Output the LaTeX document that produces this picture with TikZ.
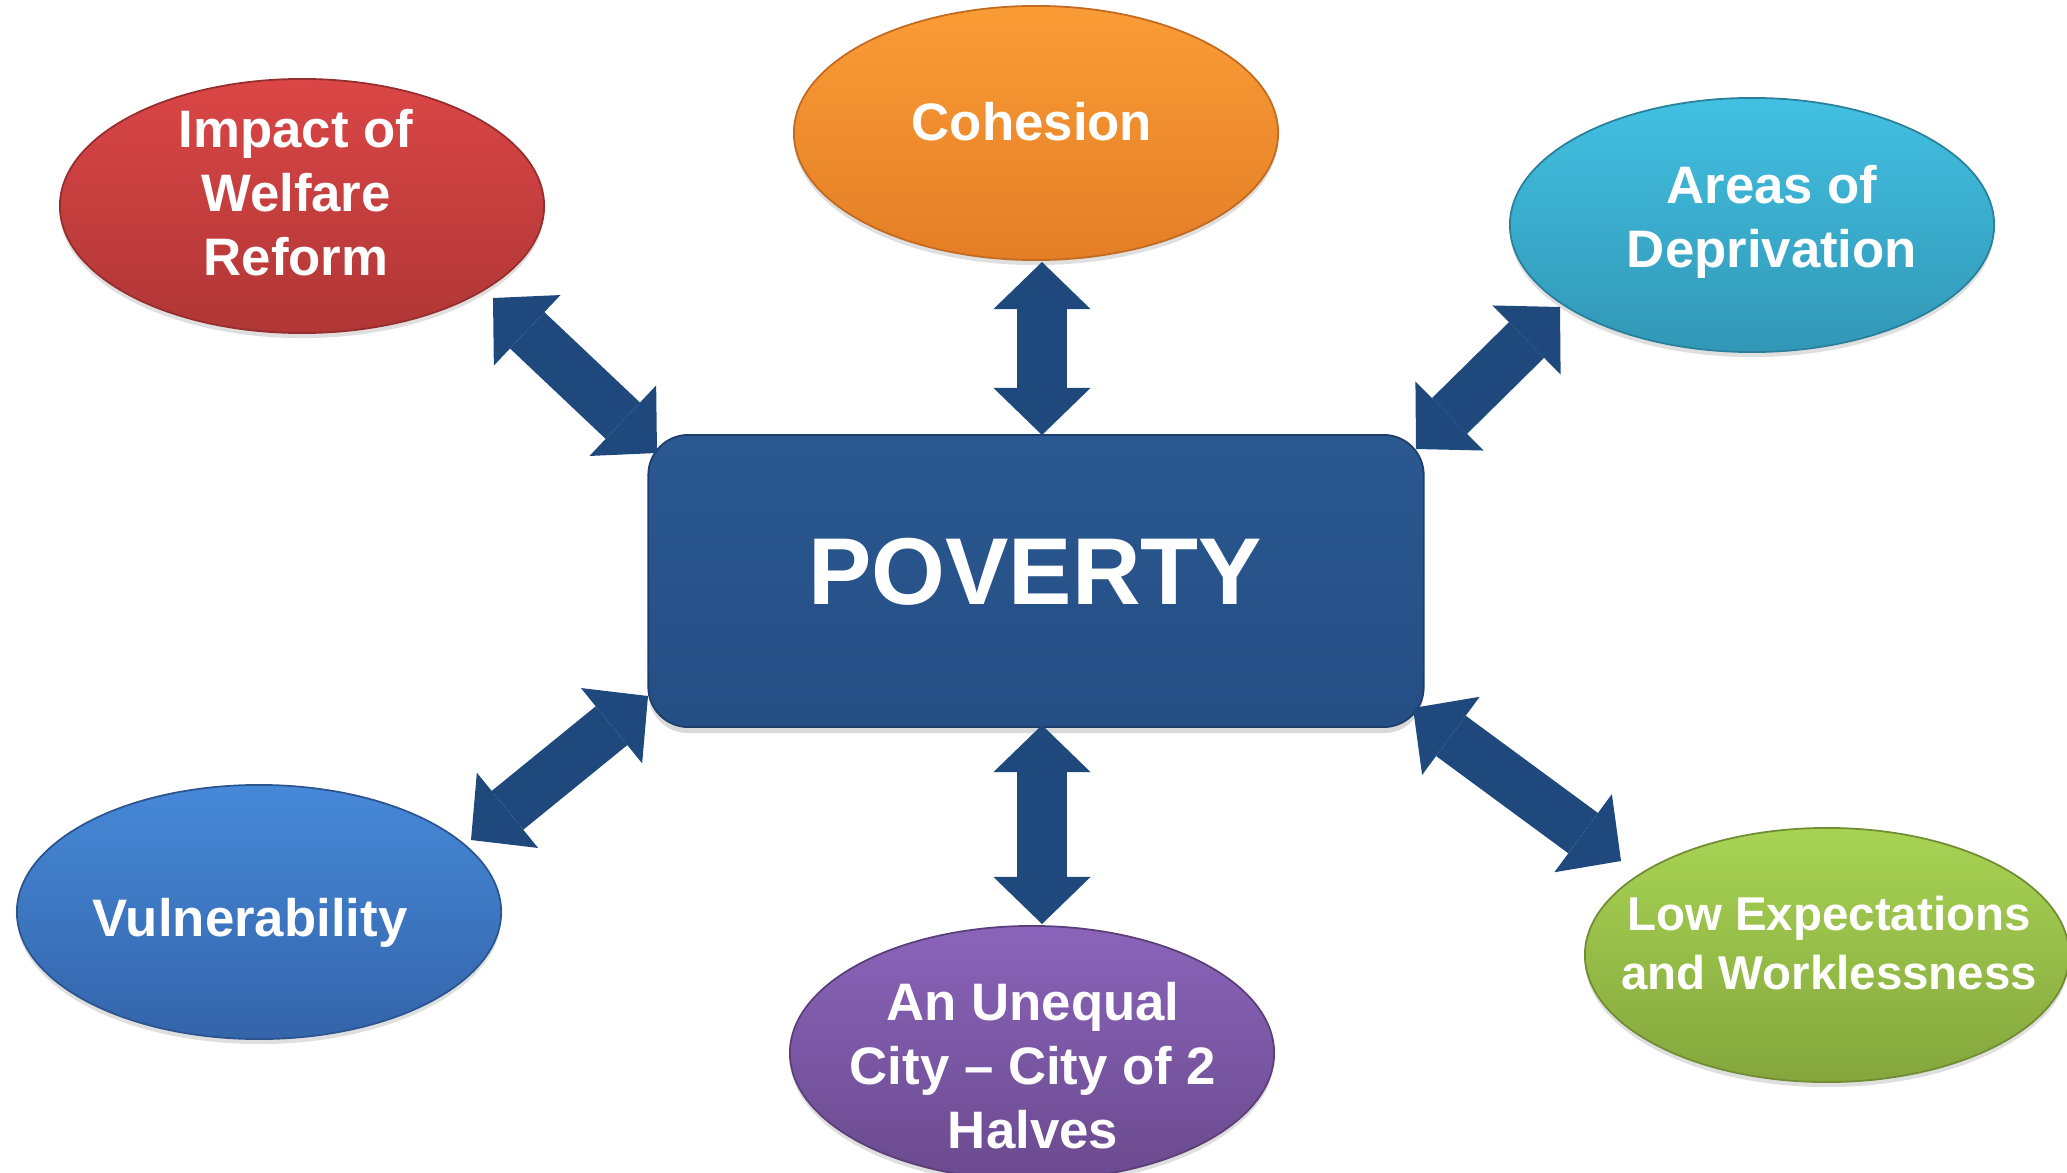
\documentclass[tikz,border=0pt]{standalone}
\usepackage{fontspec}
\setmainfont{Liberation Sans}
\usetikzlibrary{shapes.geometric,arrows.meta,shadows}

\definecolor{redT}{HTML}{DB4646}
\definecolor{redB}{HTML}{B03636}
\definecolor{oraT}{HTML}{FA9C36}
\definecolor{oraB}{HTML}{E47E26}
\definecolor{tealT}{HTML}{42C0E2}
\definecolor{tealB}{HTML}{3297B6}
\definecolor{bluT}{HTML}{4689D8}
\definecolor{bluB}{HTML}{3464AA}
\definecolor{purT}{HTML}{8A64BA}
\definecolor{purB}{HTML}{6B4A8E}
\definecolor{grnT}{HTML}{A8D354}
\definecolor{grnB}{HTML}{84A63C}
\definecolor{boxT}{HTML}{2B5891}
\definecolor{boxB}{HTML}{244E84}
\definecolor{arrowblue}{HTML}{1F497D}

\tikzset{
  bubble/.style n args={2}{ellipse, minimum width=4.84cm, minimum height=2.54cm, inner sep=0pt,
    top color=#1, bottom color=#2, draw=#2!85!black, line width=0.5pt,
    drop shadow={shadow xshift=0pt, shadow yshift=-0.05cm, opacity=0.25}},
  lbl/.style={text=white, font=\fontsize{15}{18.2}\selectfont\bfseries, align=center, inner sep=0pt},
  link/.style={arrowblue, line width=5mm,
    {Triangle[length=4.7mm, width=9.7mm, line width=0pt]}-{Triangle[length=4.7mm, width=9.7mm, line width=0pt]}}
}

\begin{document}
\begin{tikzpicture}[x=0.01cm, y=-0.01cm]
            \useasboundingbox (0,0) rectangle (2067,1173);
            % centre box
            \node[rectangle, rounded corners=0.4cm, minimum width=7.75cm, minimum height=2.92cm, inner sep=0pt,
                  top color=boxT, bottom color=boxB, draw=boxB!80!black, line width=0.5pt,
                  drop shadow={shadow xshift=0pt, shadow yshift=-0.06cm, opacity=0.3}] (P) at (1036,581) {};
            \node[text=white, font=\fontsize{27}{32}\selectfont\bfseries, inner sep=0pt] (PT) at (1035,572) {POVERTY};
            % bubbles
            \node[bubble={redT}{redB}] (W) at (302,206) {};
            \node[bubble={oraT}{oraB}] (C) at (1036,133) {};
            \node[bubble={tealT}{tealB}] (D) at (1752,225) {};
            \node[bubble={bluT}{bluB}] (V) at (259,912) {};
            \node[bubble={purT}{purB}] (U) at (1032,1053) {};
            \node[bubble={grnT}{grnB}] (L) at (1827,955) {};
            \node[lbl] (WT) at (296,193) {Impact of\\Welfare\\Reform};
            \node[lbl] (CT) at (1032,122) {Cohesion};
            \node[lbl] (DT) at (1772,222) {Areas of\\Deprivation};
            \node[lbl] (VT) at (250,923) {Vulnerability};
            \node[lbl] (UT) at (1033,1066) {An Unequal\\City -- City of 2\\Halves};
            \node[lbl, font=\fontsize{13.5}{16.6}\selectfont\bfseries] (LT) at (1829,943) {Low Expectations\\and Worklessness};
            % arrow tips
            \coordinate (W1) at (493,298);
            \coordinate (W2) at (657,453);
            \coordinate (C1) at (1042,262);
            \coordinate (C2) at (1042,435);
            \coordinate (D1) at (1560,307);
            \coordinate (D2) at (1416,449);
            \coordinate (V1) at (471,840);
            \coordinate (V2) at (648,696);
            \coordinate (U1) at (1042,924);
            \coordinate (U2) at (1042,725);
            \coordinate (L1) at (1621,861);
            \coordinate (L2) at (1413,708);
            \draw[link] (W1)--(W2);
            \draw[link] (C1)--(C2);
            \draw[link] (D1)--(D2);
            \draw[link] (V1)--(V2);
            \draw[link] (U1)--(U2);
            \draw[link] (L1)--(L2);
        \end{tikzpicture}
\end{document}
